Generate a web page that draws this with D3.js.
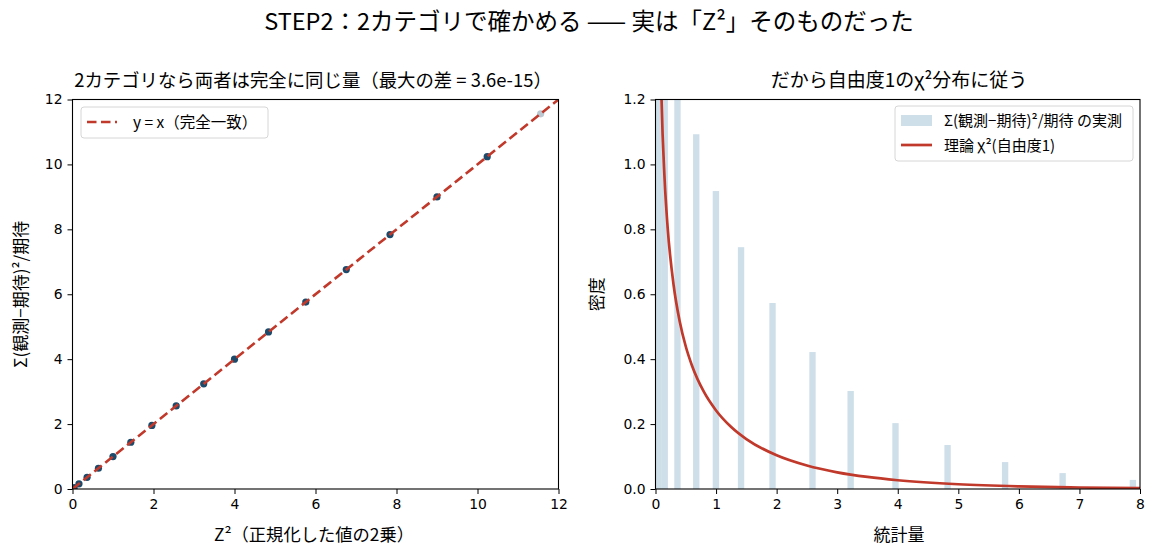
<!DOCTYPE html>
<html>
<head>
<meta charset="utf-8">
<script src="https://cdn.jsdelivr.net/npm/d3@7"></script>
<style>
  body { margin: 0; background: #fff; }
  svg text {
    font-family: "Noto Sans CJK JP", "Noto Sans", sans-serif;
    fill: #000;
    text-spacing-trim: space-all;
  }
  .tick text { font-family: "DejaVu Sans", sans-serif; font-size: 13.9px; }
</style>
</head>
<body>
<div id="chart"></div>
<script>
// Left panel: Z^2 vs chi-square statistic (identical for 2 categories)
const zSquared = [0, 0.04, 0.16, 0.36, 0.64, 1.0, 1.44, 1.96, 2.56, 3.24, 4.0, 4.84, 5.76, 6.76, 7.84, 9.0, 10.24, 11.56];
const chiStat  = [0, 0.04, 0.16, 0.36, 0.64, 1.0, 1.44, 1.96, 2.56, 3.24, 4.0, 4.84, 5.76, 6.76, 7.84, 9.0, 10.24, 11.56];
const pointAlpha = [1, 1, 1, 1, 1, 1, 1, 1, 1, 1, 1, 1, 1, 1, 1, 1, 1, 0.3];
const leftTicks = [0, 2, 4, 6, 8, 10, 12];

// Right panel: histogram of observed statistic (density) + theoretical chi2(1)
const histLeft   = [0, 0.1, 0.31, 0.62, 0.945, 1.36, 1.88, 2.54, 3.17, 3.91, 4.77, 5.72, 6.67, 7.83];
const histHeight = [2.2, 1.4, 1.27, 1.093, 0.918, 0.745, 0.573, 0.422, 0.302, 0.203, 0.1355, 0.083, 0.049, 0.028];
const binWidth = 0.105;
const curveX = [0.03, 0.05, 0.1, 0.15, 0.2, 0.3, 0.4, 0.5, 0.6, 0.8, 1.0, 1.25, 1.5, 2, 2.5, 3, 3.5, 4, 5, 6, 7, 8];
const curveY = [2.27, 1.74, 1.2, 0.956, 0.807, 0.627, 0.516, 0.439, 0.3815, 0.299, 0.242, 0.191, 0.1539, 0.1038, 0.0723, 0.0514, 0.0371, 0.027, 0.01465, 0.00811, 0.00455, 0.00258];
const rightXTicks = [0, 1, 2, 3, 4, 5, 6, 7, 8];
const rightYTicks = [0, 0.2, 0.4, 0.6, 0.8, 1.0, 1.2];

const RED = "#c0392b";
const DOT = "#1b4a6b";
const BAR = "#cfdfe9";

const W = 1158, H = 558;
const plotTop = 99.5, plotBottom = 489;

const svg = d3.select("#chart").append("svg")
  .attr("width", W)
  .attr("height", H);

function label(g, x, y, size, str, anchor) {
  return g.append("text")
    .attr("x", x).attr("y", y)
    .attr("text-anchor", anchor || "middle")
    .style("font-size", size + "px")
    .text(str);
}

// Suptitle
label(svg, 589, 30, 23.5, "STEP2：2カテゴリで確かめる —— 実は「Z²」そのものだった");

function styleAxis(g) {
  g.selectAll(".domain").remove();
  g.selectAll(".tick line").attr("stroke", "#000").attr("stroke-width", 1);
}

function frame(g, x0, x1) {
  g.append("rect")
    .attr("x", x0).attr("y", plotTop)
    .attr("width", x1 - x0).attr("height", plotBottom - plotTop)
    .attr("fill", "none")
    .attr("stroke", "#000")
    .attr("stroke-width", 1.1);
}

// ---------- left panel ----------
const lx = d3.scaleLinear().domain([0, 12]).range([72.5, 558.5]);
const ly = d3.scaleLinear().domain([0, 12]).range([plotBottom, plotTop]);

const left = svg.append("g");

left.append("defs").append("clipPath").attr("id", "clipL")
  .append("rect").attr("x", 72.5).attr("y", plotTop).attr("width", 486).attr("height", plotBottom - plotTop);

left.append("g")
  .attr("transform", `translate(0,${plotBottom})`)
  .call(d3.axisBottom(lx).tickValues(leftTicks).tickSize(5).tickPadding(5).tickFormat(d3.format("d")))
  .call(styleAxis);

left.append("g")
  .attr("transform", `translate(72.5,0)`)
  .call(d3.axisLeft(ly).tickValues(leftTicks).tickSize(5).tickPadding(5).tickFormat(d3.format("d")))
  .call(styleAxis);

const pts = zSquared.map((z, i) => ({ x: z, y: chiStat[i], a: pointAlpha[i] }));

left.append("g").attr("clip-path", "url(#clipL)")
  .selectAll("circle")
  .data(pts)
  .join("circle")
  .attr("cx", d => lx(d.x))
  .attr("cy", d => ly(d.y))
  .attr("r", 3.6)
  .attr("fill", DOT)
  .attr("fill-opacity", d => d.a);

left.append("path")
  .datum([0, 12])
  .attr("clip-path", "url(#clipL)")
  .attr("fill", "none")
  .attr("stroke", RED)
  .attr("stroke-width", 2.6)
  .attr("stroke-dasharray", "9.5,4.5")
  .attr("d", d3.line().x(d => lx(d)).y(d => ly(d)));

frame(left, 72.5, 558.5);

label(left, 313, 87, 18.4, "2カテゴリなら両者は完全に同じ量（最大の差 = 3.6e-15）");
label(left, 314, 541, 17.3, "Z²（正規化した値の2乗）");

const ylabL = left.append("g").attr("transform", `translate(27,${(plotTop + plotBottom) / 2}) rotate(-90)`);
label(ylabL, 0, 0, 17, "Σ(観測−期待)²/期待");

// left legend
const lg = left.append("g");
lg.append("rect")
  .attr("x", 81).attr("y", 107).attr("width", 187).attr("height", 31)
  .attr("rx", 3)
  .attr("fill", "#fff").attr("fill-opacity", 0.8)
  .attr("stroke", "#d6d6d6");
lg.append("line")
  .attr("x1", 87).attr("x2", 117).attr("y1", 122).attr("y2", 122)
  .attr("stroke", RED).attr("stroke-width", 2.6).attr("stroke-dasharray", "9.5,4.5");
label(lg, 133, 127.5, 15.5, "y = x（完全一致）", "start");

// ---------- right panel ----------
const rx = d3.scaleLinear().domain([0, 8]).range([655.5, 1140]);
const ry = d3.scaleLinear().domain([0, 1.2]).range([plotBottom, plotTop]);

const right = svg.append("g");

right.append("defs").append("clipPath").attr("id", "clipR")
  .append("rect").attr("x", 655.5).attr("y", plotTop).attr("width", 1140 - 655.5).attr("height", plotBottom - plotTop);

right.append("g")
  .attr("transform", `translate(0,${plotBottom})`)
  .call(d3.axisBottom(rx).tickValues(rightXTicks).tickSize(5).tickPadding(5).tickFormat(d3.format("d")))
  .call(styleAxis);

right.append("g")
  .attr("transform", `translate(655.5,0)`)
  .call(d3.axisLeft(ry).tickValues(rightYTicks).tickSize(5).tickPadding(5).tickFormat(d3.format(".1f")))
  .call(styleAxis);

const bins = histLeft.map((x, i) => ({ x0: x, x1: x + binWidth, h: histHeight[i] }));

right.append("g").attr("clip-path", "url(#clipR)")
  .selectAll("rect")
  .data(bins)
  .join("rect")
  .attr("x", d => rx(d.x0))
  .attr("width", d => rx(d.x1) - rx(d.x0))
  .attr("y", d => ry(d.h))
  .attr("height", d => ry(0) - ry(d.h))
  .attr("fill", BAR);

const curvePts = curveX.map((x, i) => ({ x, y: curveY[i] }));

right.append("path")
  .datum(curvePts)
  .attr("clip-path", "url(#clipR)")
  .attr("fill", "none")
  .attr("stroke", RED)
  .attr("stroke-width", 2.7)
  .attr("d", d3.line().curve(d3.curveMonotoneX).x(d => rx(d.x)).y(d => ry(d.y)));

frame(right, 655.5, 1140);

label(right, 899, 87, 19, "だから自由度1のχ²分布に従う");
label(right, 899, 541, 17, "統計量");

const ylabR = right.append("g").attr("transform", `translate(603,${(plotTop + plotBottom) / 2}) rotate(-90)`);
label(ylabR, 0, 0, 17, "密度");

// right legend
const rg = right.append("g");
rg.append("rect")
  .attr("x", 895).attr("y", 106).attr("width", 238).attr("height", 55)
  .attr("rx", 3)
  .attr("fill", "#fff").attr("fill-opacity", 0.8)
  .attr("stroke", "#d6d6d6");
rg.append("rect")
  .attr("x", 901).attr("y", 115).attr("width", 31).attr("height", 11)
  .attr("fill", BAR);
label(rg, 944, 126, 15, "Σ(観測−期待)²/期待 の実測", "start");
rg.append("line")
  .attr("x1", 901).attr("x2", 932).attr("y1", 145).attr("y2", 145)
  .attr("stroke", RED).attr("stroke-width", 2.7);
label(rg, 944, 151, 15, "理論 χ²(自由度1)", "start");
</script>
</body>
</html>
